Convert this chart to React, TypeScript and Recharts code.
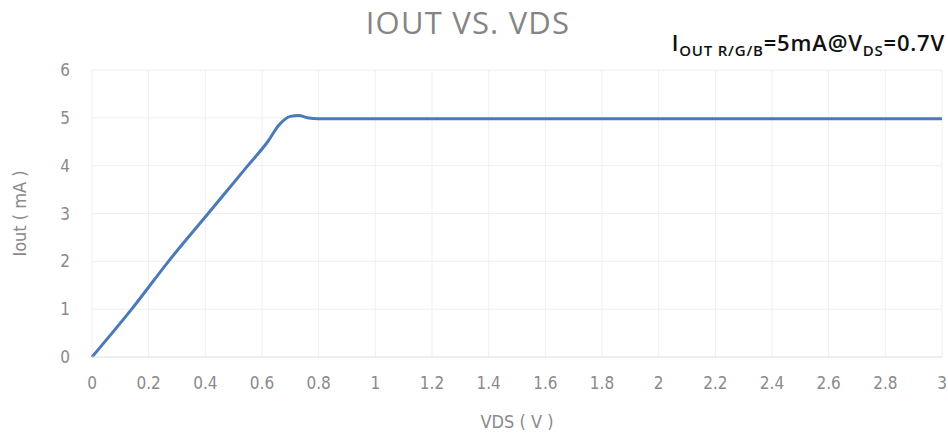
import { LineChart, Line, XAxis, YAxis, CartesianGrid, Label } from 'recharts';

// VDS (V) -> Iout (mA)
const vds = [0, 0.14, 0.27, 0.41, 0.55, 0.62, 0.66, 0.7, 0.73, 0.76, 0.8, 1, 1.5, 2, 2.5, 3];
const iout = [0, 1, 2, 3, 4, 4.5, 4.85, 5.03, 5.05, 5.0, 4.98, 4.98, 4.98, 4.98, 4.98, 4.98];

const xTicks = [0, 0.2, 0.4, 0.6, 0.8, 1, 1.2, 1.4, 1.6, 1.8, 2, 2.2, 2.4, 2.6, 2.8, 3];
const yTicks = [0, 1, 2, 3, 4, 5, 6];

const data = vds.map((v, i) => ({ vds: v, iout: iout[i] }));

const tickFont = "'Liberation Sans Narrow', 'DejaVu Sans Condensed', 'Open Sans', sans-serif";
const gray = '#8a8a8a';

export default function App() {
  return (
    <div style={{ position: 'absolute', left: 0, top: 0, width: 948, height: 434, background: '#fff', fontFamily: "'Open Sans', sans-serif" }}>
      <div style={{ position: 'absolute', left: 0, width: 936, top: 1, textAlign: 'center', fontSize: 31, color: '#858585', letterSpacing: 1.2 }}>
        IOUT VS. VDS
      </div>
      <div style={{ position: 'absolute', right: 3, top: 27, fontSize: 22, fontWeight: 600, color: '#111', whiteSpace: 'nowrap', letterSpacing: 0.8 }}>
        I<sub style={{ fontSize: 15 }}>OUT R/G/B</sub>=5mA@V<sub style={{ fontSize: 15 }}>DS</sub>=0.7V
      </div>
      <LineChart width={948} height={434} data={data} margin={{ top: 70, right: 6, left: 0, bottom: 0 }}>
        <CartesianGrid stroke="#efefef" strokeWidth={1} />
        <XAxis
          dataKey="vds"
          type="number"
          domain={[0, 3]}
          ticks={xTicks}
          interval={0}
          axisLine={{ stroke: '#e6e6e6' }}
          tickLine={false}
          tick={{ fill: gray, fontSize: 17, fontFamily: tickFont }}
          tickMargin={14}
          height={77}
        >
          <Label value="VDS ( V )" position="insideBottom" offset={6} style={{ fill: gray, fontSize: 18, fontFamily: tickFont }} />
        </XAxis>
        <YAxis
          type="number"
          domain={[0, 6]}
          ticks={yTicks}
          axisLine={false}
          tickLine={false}
          tick={{ fill: gray, fontSize: 17, fontFamily: tickFont }}
          tickMargin={16}
          width={92}
        >
          <Label value="Iout ( mA )" angle={-90} position="insideLeft" offset={20} style={{ fill: gray, fontSize: 18, fontFamily: tickFont, textAnchor: 'middle' }} />
        </YAxis>
        <Line type="monotone" dataKey="iout" stroke="#4a7ab9" strokeWidth={3} dot={false} isAnimationActive={false} />
      </LineChart>
    </div>
  );
}
